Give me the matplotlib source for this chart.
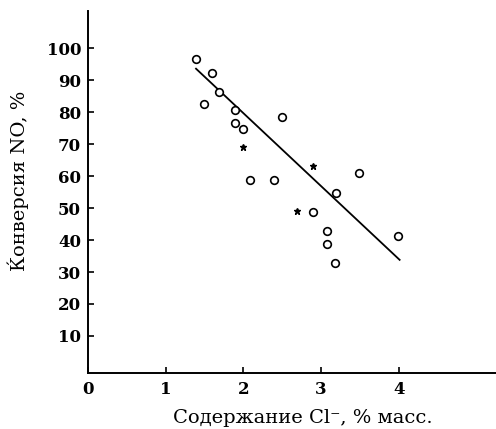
import matplotlib
matplotlib.use('Agg')
from matplotlib import pyplot as plt
import numpy as np

# open circles
cl_open = [1.39, 1.60, 1.69, 1.49, 1.89, 1.89, 1.99, 2.50, 2.09, 2.39,
           3.49, 3.19, 2.89, 3.08, 3.08, 3.18, 3.99]
conv_open = [96.5, 92.3, 86.4, 82.5, 80.6, 76.7, 74.7, 78.6, 58.7, 58.7,
             61.0, 54.8, 48.7, 42.9, 38.8, 32.8, 41.2]

# asterisk points
cl_star = [1.99, 2.89, 2.69]
conv_star = [69.0, 63.1, 49.1]

# regression line ends
line_x = [1.39, 4.01]
line_y = [93.6, 33.8]

x_ticks = [0, 1, 2, 3, 4]
y_ticks = [10, 20, 30, 40, 50, 60, 70, 80, 90, 100]

plt.rcParams['font.family'] = ['DejaVu Serif']

fig = plt.figure(figsize=(4.96, 4.29), dpi=100)
ax = fig.add_axes([0.1774, 0.1305, 0.8226, 0.8435])

ax.plot(line_x, line_y, color='black', lw=1.3)
ax.plot(cl_open, conv_open, 'o', ms=5.5, mfc='white', mec='black', mew=1.2)
ax.plot(cl_star, conv_star, '*', ms=5, color='black')

ax.set_xlim(0, 5.25)
ax.set_ylim(-1.6, 111.6)

ax.spines['top'].set_visible(False)
ax.spines['right'].set_visible(False)
ax.spines['left'].set_linewidth(1.4)
ax.spines['bottom'].set_linewidth(1.4)

ax.set_xticks(x_ticks)
ax.set_yticks(y_ticks)
ax.tick_params(axis='both', direction='in', length=4, width=1.2, labelsize=12)
ax.tick_params(axis='x', pad=6)
ax.tick_params(axis='y', pad=5)
for lab in ax.get_xticklabels() + ax.get_yticklabels():
    lab.set_fontweight('bold')

ax.set_xlabel('Содержание Cl⁻, % масс.', fontsize=14)
ax.set_ylabel('Ќонверсия NO, %', fontsize=14)
ax.xaxis.label.set_va('center')
ax.yaxis.label.set_va('center')
ax.xaxis.set_label_coords(0.527, -0.124)
ax.yaxis.set_label_coords(-0.1716, 0.530)

plt.savefig('out.png', dpi=100)
